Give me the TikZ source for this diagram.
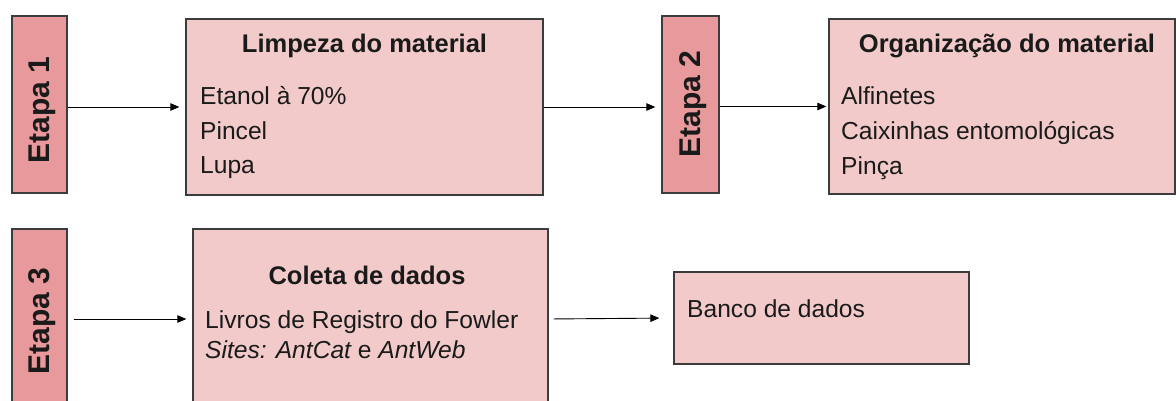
\documentclass[tikz,border=0pt]{standalone}
\usepackage{fontspec}
\setmainfont{Liberation Sans}
\usetikzlibrary{arrows.meta}

\definecolor{stagefill}{HTML}{E8999B}
\definecolor{boxfill}{HTML}{F2CACA}
\definecolor{edge}{HTML}{3C3C3C}
\definecolor{ink}{HTML}{1A1A1A}

\tikzset{
  stagebox/.style={draw=edge, line width=1.3pt, fill=stagefill, inner sep=0pt},
  stagelabel/.style={rotate=90, inner sep=0pt, text=ink,
    font=\fontsize{30}{34}\selectfont\bfseries},
  itembox/.style={draw=edge, line width=1.3pt, fill=boxfill, inner sep=0pt},
  boxtitle/.style={anchor=base, inner sep=0pt, text=ink,
    font=\fontsize{25.5}{29}\selectfont\bfseries},
  boxline/.style={anchor=base west, inner sep=0pt, text=ink,
    font=\fontsize{24.6}{28}\selectfont},
  flow/.style={-{Triangle[length=9pt,width=7.5pt]}, line width=0.9pt, black,
    shorten >=6pt}
}

\begin{document}
\begin{tikzpicture}[x=1pt, y=-1pt]
\clip (0,0) rectangle (1176,401);
\fill[white] (0,0) rectangle (1176,401);

% Stage markers
\node[stagebox, minimum width=55pt, minimum height=177pt] (e1) at (39.5,104.5) {};
\node[stagebox, minimum width=57pt, minimum height=177pt] (e2) at (690.5,104.5) {};
\node[stagebox, minimum width=55pt, minimum height=180pt] (e3) at (39.5,319) {};
\node[stagelabel] (e1t) at (42,110) {Etapa 1};
\node[stagelabel] (e2t) at (693,104) {Etapa 2};
\node[stagelabel] (e3t) at (42,321) {Etapa 3};

% Content boxes
\node[itembox, minimum width=357pt, minimum height=176pt] (lim) at (364.5,107) {};
\node[itembox, minimum width=346pt, minimum height=175pt] (org) at (1002,106.5) {};
\node[itembox, minimum width=355pt, minimum height=180pt] (col) at (370.5,319) {};
\node[itembox, minimum width=295pt, minimum height=92pt] (bco) at (821.5,318) {};

% Box contents
\node[boxtitle] (limt) at (364.5,53) {Limpeza do material};
\node[boxline] (lim1) at (200,105) {Etanol à 70\%};
\node[boxline] (lim2) at (200,140) {Pincel};
\node[boxline] (lim3) at (200,174) {Lupa};

\node[boxtitle] (orgt) at (1007,53) {Organização do material};
\node[boxline] (org1) at (841,105) {Alfinetes};
\node[boxline] (org2) at (841,140) {Caixinhas entomológicas};
\node[boxline] (org3) at (841,175) {Pinça};

\node[boxtitle] (colt) at (367,284) {Coleta de dados};
\node[boxline] (col1) at (205,328) {Livros de Registro do Fowler};
\node[boxline] (col2) at (205,358) {\itshape Sites: AntCat \upshape e \itshape AntWeb};

\node[boxline] (bco1) at (687,317) {Banco de dados};

% Flow connectors
\draw[flow] (e1.east |- lim.west) -- (lim.west);
\draw[flow] (lim.east) -- (lim.east -| e2.west);
\draw[flow, shorten >=2pt] (e2.east |- org.west) -- (org.west);
\draw[flow, shorten <=6pt] (e3.east) -- (col.west);
\draw[flow, shorten <=5pt, shorten >=14pt] (col.east) -- (bco.west);
\end{tikzpicture}
\end{document}
